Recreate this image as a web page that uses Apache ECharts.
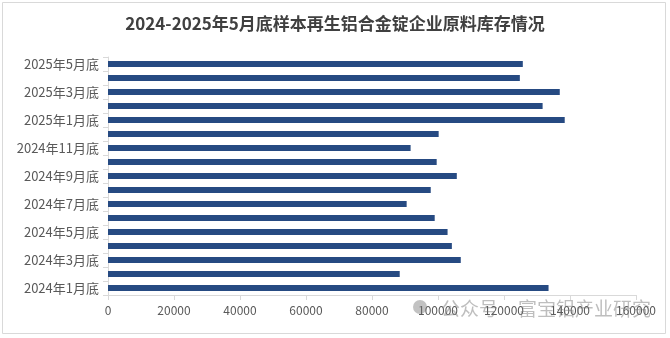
<!DOCTYPE html>
<html>
<head>
<meta charset="utf-8">
<script src="https://cdn.jsdelivr.net/npm/echarts@6/dist/echarts.min.js"></script>
<style>
html,body{margin:0;padding:0;background:#fff;}
#main{width:670px;height:338px;}
</style>
</head>
<body>
<div id="main"></div>
<script>
var titleText = '2024-2025年5月底样本再生铝合金锭企业原料库存情况';
var categories = ['2024年1月底','2024年2月底','2024年3月底','2024年4月底','2024年5月底','2024年6月底','2024年7月底','2024年8月底','2024年9月底','2024年10月底','2024年11月底','2024年12月底','2025年1月底','2025年2月底','2025年3月底','2025年4月底','2025年5月底'];
var values = [133500, 88400, 106900, 104200, 102900, 99000, 90500, 97800, 105700, 99600, 91700, 100200, 138400, 131700, 136900, 124800, 125700];
var xTicks = {min: 0, max: 160000, interval: 20000};
var watermarkA = '公众号';
var watermarkB = '富宝铝产业研究';

var chart = echarts.init(document.getElementById('main'));
chart.setOption({
  animation: false,
  backgroundColor: '#ffffff',
  title: {
    text: titleText,
    left: 'center',
    top: 10,
    textStyle: {fontSize: 17, fontWeight: 'bold', color: '#404040', fontFamily: '"Noto Sans CJK SC", sans-serif'}
  },
  grid: {left: 108, right: 34, top: 57, bottom: 43},
  xAxis: {
    type: 'value',
    min: xTicks.min, max: xTicks.max, interval: xTicks.interval,
    axisLine: {show: true, lineStyle: {color: '#d9d9d9'}},
    axisTick: {show: true, length: 5, lineStyle: {color: '#d9d9d9'}},
    splitLine: {show: false},
    axisLabel: {color: '#595959', fontSize: 12, margin: 9, formatter: function (v) { return String(v); }, fontFamily: '"Noto Sans CJK SC", sans-serif'}
  },
  yAxis: {
    type: 'category',
    data: categories,
    axisLine: {show: true, lineStyle: {color: '#d9d9d9'}},
    axisTick: {show: true, length: 5, interval: 0, lineStyle: {color: '#d9d9d9'}},
    axisLabel: {interval: 1, color: '#595959', fontSize: 13, margin: 9, fontFamily: '"Noto Sans CJK SC", sans-serif'}
  },
  series: [{
    type: 'bar',
    data: values,
    barWidth: 6,
    itemStyle: {color: '#264a82'}
  }],
  graphic: [
    {type: 'rect', shape: {x: 2.5, y: 2.5, width: 663, height: 331}, style: {fill: 'none', stroke: '#d9d9d9', lineWidth: 1}, z: -1},
    {type: 'circle', shape: {cx: 420, cy: 307, r: 7}, style: {fill: 'rgba(120,120,120,0.45)'}, z: 10},
    {type: 'text', left: 441, top: 299, style: {text: watermarkA, fontSize: 19, fill: 'rgba(110,110,110,0.45)', fontFamily: '"Noto Sans CJK SC", sans-serif'}, z: 10},
    {type: 'text', left: 518, top: 299, style: {text: watermarkB, fontSize: 19, fill: 'rgba(110,110,110,0.45)', fontFamily: '"Noto Sans CJK SC", sans-serif'}, z: 10}
  ]
});
</script>
</body>
</html>
